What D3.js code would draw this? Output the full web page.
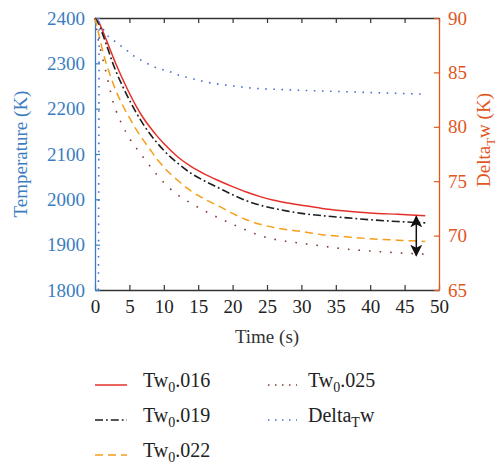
<!DOCTYPE html>
<html>
<head>
<meta charset="utf-8">
<script src="https://cdn.jsdelivr.net/npm/d3@7"></script>
<style>
  body { margin: 0; background: #fff; }
</style>
</head>
<body>
<div id="chart-area"></div>
<script>
// time grid (s) shared by the four wall temperature curves
const times  = [0, 0.5, 1, 1.5, 2, 2.5, 3, 4, 5, 6, 7, 8, 9, 10, 12, 14, 16, 18, 20, 22, 24, 26, 28, 30, 33, 36, 40, 44, 48];
const tw016  = [2400, 2392, 2376, 2357, 2338, 2319, 2300, 2266, 2234, 2205, 2180, 2159, 2140, 2123, 2094, 2072, 2055, 2041, 2028, 2016, 2006, 1998, 1992, 1987, 1980, 1975, 1970, 1967, 1964];
const tw019  = [2400, 2388, 2369, 2348, 2326, 2304, 2284, 2250, 2219, 2191, 2166, 2144, 2125, 2108, 2080, 2057, 2040, 2025, 2010, 1997, 1987, 1980, 1974, 1969, 1964, 1960, 1955, 1951, 1948];
const tw022  = [2400, 2368, 2335, 2306, 2283, 2261, 2241, 2208, 2180, 2154, 2131, 2110, 2089, 2071, 2042, 2018, 2000, 1985, 1969, 1955, 1945, 1938, 1933, 1929, 1922, 1918, 1913, 1910, 1907];
const tw025  = [2400, 2350, 2318, 2287, 2254, 2222, 2198, 2163, 2135, 2113, 2093, 2073, 2054, 2037, 2010, 1991, 1974, 1959, 1945, 1932, 1920, 1912, 1907, 1903, 1897, 1891, 1886, 1882, 1879];

// Delta_T w (right axis)
const deltaTimes = [0.5, 0.6, 1, 1.75, 3.2, 4.4, 5.4, 7.3, 9, 10.7, 12.4, 14.3, 16.2, 18.2, 20.1, 22, 24, 26, 28, 30, 35, 40, 45, 48];
const deltaW     = [65, 89.6, 89.2, 88.4, 87.7, 87.15, 86.6, 85.9, 85.4, 85.1, 84.7, 84.4, 84.1, 83.9, 83.75, 83.6, 83.5, 83.45, 83.4, 83.35, 83.25, 83.15, 83.05, 83.0];

const xTicks     = [0, 5, 10, 15, 20, 25, 30, 35, 40, 45, 50];
const tempTicks  = [1800, 1900, 2000, 2100, 2200, 2300, 2400];
const deltaTicks = [65, 70, 75, 80, 85, 90];

// double arrow marking the spread at the end of the run
const arrowTime  = 46.7;
const arrowSpan  = [1962, 1876];

const serif = "'Liberation Serif', 'DejaVu Serif', serif";
const blue = "#3b7dbf", orange = "#e0561f";

const svgWidth = 502, svgHeight = 469;
const plot = {left: 95, right: 439, top: 18, bottom: 290};

const svg = d3.select("#chart-area")
  .append("svg")
  .attr("width", svgWidth)
  .attr("height", svgHeight)
  .style("font-family", serif);

const x  = d3.scaleLinear().domain([0, 50]).range([plot.left, plot.right]);
const yT = d3.scaleLinear().domain([1800, 2400]).range([plot.bottom, plot.top]);
const yD = d3.scaleLinear().domain([65, 90]).range([plot.bottom, plot.top]);

const series = [
  {values: tw016, color: "#e5302a", dash: null, width: 1.5},
  {values: tw019, color: "#1e1e1e", dash: "8,3,1.8,3", width: 1.6},
  {values: tw022, color: "#f59e1a", dash: "8,5", width: 1.5},
  {values: tw025, color: "#7b3f33", dash: "1.6,9", width: 1.6}
];

const line = d3.line()
  .x(d => x(d[0]))
  .y(d => yT(d[1]))
  .curve(d3.curveMonotoneX);

const lineD = d3.line()
  .x(d => x(d[0]))
  .y(d => yD(d[1]));

// axes
function styleAxis(g, color, labelColor) {
  g.attr("font-family", null).attr("font-size", null);
  g.select(".domain").attr("stroke", color).attr("stroke-width", 1.3);
  g.selectAll(".tick line").attr("stroke", color).attr("stroke-width", 1.2);
  g.selectAll(".tick text")
    .attr("fill", labelColor)
    .style("font-size", "19px")
    .style("font-family", serif);
}

const fmt = d3.format("d");

svg.append("g")
  .attr("transform", `translate(0,${plot.top})`)
  .call(d3.axisTop(x).tickValues(xTicks).tickSize(-5).tickSizeOuter(0).tickFormat(""))
  .call(g => styleAxis(g, "#333", "#222"));

svg.append("g")
  .attr("transform", `translate(0,${plot.bottom})`)
  .call(d3.axisBottom(x).tickValues(xTicks).tickSize(-5).tickSizeOuter(0).tickPadding(10).tickFormat(fmt))
  .call(g => styleAxis(g, "#333", "#222"));

svg.append("g")
  .attr("transform", `translate(${plot.left},0)`)
  .call(d3.axisLeft(yT).tickValues(tempTicks).tickSize(-5).tickSizeOuter(0).tickPadding(10).tickFormat(fmt))
  .call(g => styleAxis(g, blue, blue));

svg.append("g")
  .attr("transform", `translate(${plot.right},0)`)
  .call(d3.axisRight(yD).tickValues(deltaTicks).tickSize(-5).tickSizeOuter(0).tickPadding(9).tickFormat(fmt))
  .call(g => styleAxis(g, orange, orange));

// axis titles
svg.append("text")
  .attr("x", (plot.left + plot.right) / 2)
  .attr("y", 343)
  .attr("text-anchor", "middle")
  .style("font-size", "19px")
  .attr("fill", "#333")
  .text("Time (s)");

svg.append("text")
  .attr("transform", `translate(27,${(plot.top + plot.bottom) / 2}) rotate(-90)`)
  .attr("text-anchor", "middle")
  .style("font-size", "19px")
  .attr("fill", blue)
  .text("Temperature (K)");

const rLabel = svg.append("text")
  .attr("transform", `translate(490,140) rotate(-90)`)
  .attr("text-anchor", "middle")
  .style("font-size", "19px")
  .attr("fill", orange);
rLabel.append("tspan").text("Delta");
rLabel.append("tspan").style("font-size", "13px").attr("dy", 5).text("T");
rLabel.append("tspan").attr("dy", -5).text("w (K)");

// curves
series.forEach(s => {
  svg.append("path")
    .attr("fill", "none")
    .attr("stroke", s.color)
    .attr("stroke-width", s.width)
    .attr("stroke-dasharray", s.dash)
    .attr("d", line(times.map((t, i) => [t, s.values[i]])));
});

svg.append("path")
  .attr("fill", "none")
  .attr("stroke", "#4b6fd3")
  .attr("stroke-width", 1.6)
  .attr("stroke-dasharray", "1.6,6.5")
  .attr("d", lineD(deltaTimes.map((t, i) => [t, deltaW[i]])));

// arrow
svg.append("defs").append("marker")
  .attr("id", "head")
  .attr("viewBox", "0 0 10 10")
  .attr("refX", 9).attr("refY", 5)
  .attr("markerWidth", 12).attr("markerHeight", 12)
  .attr("markerUnits", "userSpaceOnUse")
  .attr("orient", "auto-start-reverse")
  .append("path")
  .attr("d", "M0,0 L10,5 L0,10 L2.5,5 Z")
  .attr("fill", "#111");

svg.append("line")
  .attr("x1", x(arrowTime)).attr("x2", x(arrowTime))
  .attr("y1", yT(arrowSpan[0])).attr("y2", yT(arrowSpan[1]))
  .attr("stroke", "#111")
  .attr("stroke-width", 1.5)
  .attr("marker-start", "url(#head)")
  .attr("marker-end", "url(#head)");

// legend
const legendItems = [
  {label: ["Tw", "0", ".016"], s: series[0], col: 0, row: 0},
  {label: ["Tw", "0", ".019"], s: series[1], col: 0, row: 1},
  {label: ["Tw", "0", ".022"], s: series[2], col: 0, row: 2},
  {label: ["Tw", "0", ".025"], s: {color: series[3].color, dash: "1.5,5.5", width: 1.5}, col: 1, row: 0},
  {label: ["Delta", "T", "w"], s: {color: "#4b6fd3", dash: "1.5,5.5", width: 1.5}, col: 1, row: 1}
];
const legCols = [{x0: 95, x1: 127, tx: 143}, {x0: 268, x1: 297, tx: 308}];

legendItems.forEach(d => {
  const c = legCols[d.col];
  const yb = 387 + d.row * 35;
  svg.append("line")
    .attr("x1", c.x0).attr("x2", c.x1)
    .attr("y1", yb - 2).attr("y2", yb - 2)
    .attr("stroke", d.s.color)
    .attr("stroke-width", d.s.width)
    .attr("stroke-dasharray", d.s.dash);
  const t = svg.append("text")
    .attr("x", c.tx).attr("y", yb)
    .style("font-size", "20px")
    .attr("fill", "#222");
  t.append("tspan").text(d.label[0]);
  t.append("tspan").style("font-size", "14px").attr("dy", 5).text(d.label[1]);
  t.append("tspan").attr("dy", -5).text(d.label[2]);
});
</script>
</body>
</html>
